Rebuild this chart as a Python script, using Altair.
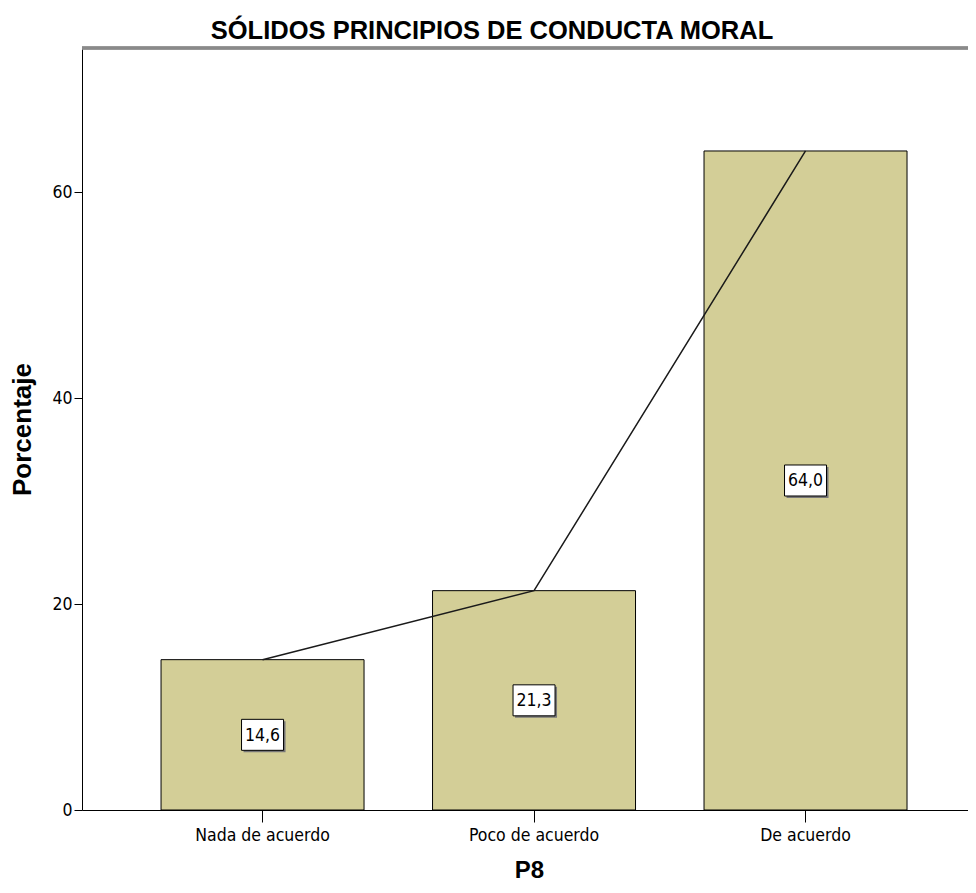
import altair as alt
import pandas as pd

categories = ["Nada de acuerdo", "Poco de acuerdo", "De acuerdo"]
percentages = [14.6, 21.3, 64.0]
value_labels = ["14,6", "21,3", "64,0"]
y_ticks = [0, 20, 40, 60]

df = pd.DataFrame({
    "cat": categories,
    "pct": percentages,
    "half": [v / 2 for v in percentages],
    "lab": value_labels,
})

NARROW = "DejaVu Sans Condensed, Liberation Sans Narrow, sans-serif"
BOLD = "Liberation Sans, Arial, sans-serif"

xscale = alt.Scale(range=[0, 894], paddingInner=0.2523, paddingOuter=0.2726, align=0.534)

x = alt.X("cat:N", sort=categories, title="P8", scale=xscale,
          axis=alt.Axis(labelAngle=0, labelFont=NARROW, labelFontSize=17.5, labelColor="black",
                        labelPadding=4, tickSize=12, tickColor="black", domainColor="black",
                        titleFont=BOLD, titleFontSize=24, titleFontWeight="bold", titleColor="black",
                        titlePadding=15))
y_axis = alt.Axis(values=y_ticks, grid=False, labelFont=NARROW, labelFontSize=17.5, labelColor="black",
                  tickSize=8, tickColor="black", domainColor="black", labelPadding=2,
                  titleFont=BOLD, titleFontSize=26, titleFontWeight="bold", titleColor="black",
                  titlePadding=16)
yscale = alt.Scale(domain=[0, 74], nice=False)

base = alt.Chart(df)

bars = base.mark_bar(color="#D3CE97", stroke="black", strokeWidth=1).encode(
    x=x,
    y=alt.Y("pct:Q", title="Porcentaje", scale=yscale, axis=y_axis),
)

line = base.mark_line(color="#1a1a1a", strokeWidth=1.5).encode(
    x=alt.X("cat:N", sort=categories, scale=xscale),
    y=alt.Y("pct:Q", scale=yscale),
)

box_path = "M-1,-0.738L1,-0.738L1,0.738L-1,0.738Z"
shadow = base.mark_point(shape=box_path, size=1764, filled=True, color="#777777",
                         opacity=1, xOffset=2, yOffset=2).encode(
    x=alt.X("cat:N", sort=categories, scale=xscale),
    y=alt.Y("half:Q", scale=yscale),
)
box = base.mark_point(shape=box_path, size=1764, filled=True, fill="white",
                      stroke="black", strokeWidth=1, opacity=1).encode(
    x=alt.X("cat:N", sort=categories, scale=xscale),
    y=alt.Y("half:Q", scale=yscale),
)
text = base.mark_text(font=NARROW, fontSize=17.5, color="black", baseline="middle", dy=1).encode(
    x=alt.X("cat:N", sort=categories, scale=xscale),
    y=alt.Y("half:Q", scale=yscale),
    text="lab:N",
)

top_rule = base.mark_rule(color="#8a8a8a", strokeWidth=3).encode(
    y=alt.value(0), x=alt.value(0), x2=alt.value(886)
)

chart = alt.layer(bars, line, shadow, box, text, top_rule).properties(
    width=886,
    height=762,
    title=alt.TitleParams("SÓLIDOS PRINCIPIOS DE CONDUCTA MORAL", font=BOLD, fontSize=25.5,
                          fontWeight="bold", color="black", anchor="middle", dx=-33,
                          offset=8, baseline="alphabetic", dy=26),
    autosize=alt.AutoSizeParams(type="none"),
    padding={"left": 74, "top": 40, "right": 0, "bottom": 75},
).configure_view(fill="#F0F0F0", stroke=None).configure(background="white")

chart.save("out.html", embed_options={"renderer": "svg", "actions": False})
